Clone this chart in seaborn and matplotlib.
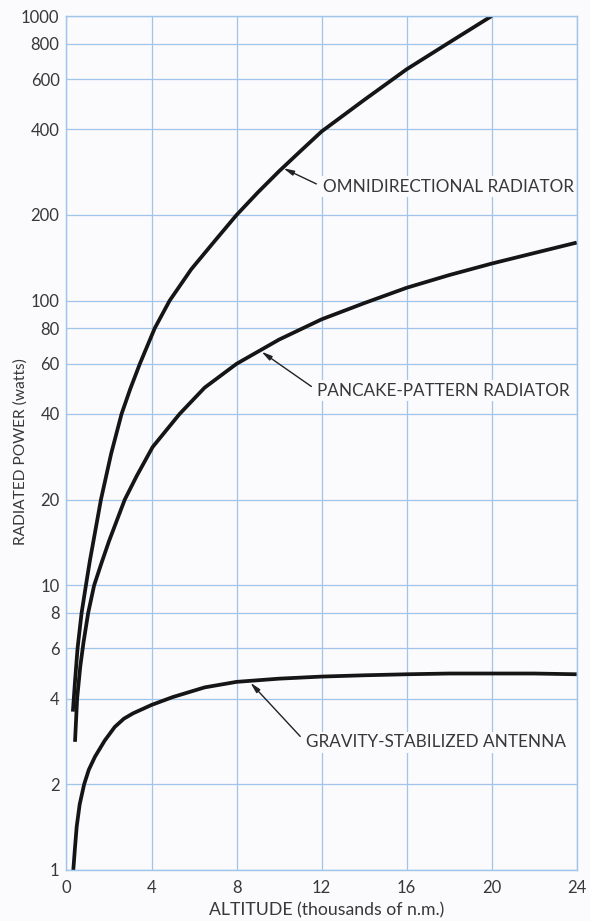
import matplotlib
matplotlib.use("Agg")
import matplotlib.pyplot as plt
import numpy as np
import pandas as pd
import seaborn as sns

# values (altitude in thousands of n.m., power in watts)
omni_x = [0.3, 0.4, 0.52, 0.71, 0.95, 1.1, 1.62, 2.1, 2.59, 3.0, 3.45, 4.15, 4.85,
          5.87, 7.0, 8.0, 9.0, 10.0, 11.0, 12.0, 14.0, 16.0, 18.0, 20.0]
omni_y = [3.6, 4.6, 6.0, 8.0, 10.4, 12.2, 20, 29, 40, 49, 60, 80, 100,
          129, 163, 200, 240, 285, 335, 393, 507, 650, 807, 1000]

pan_x = [0.4, 0.5, 0.65, 0.8, 1.02, 1.3, 1.65, 2.0, 2.74, 3.3, 4.05, 5.32, 6.5,
         8.0, 10.0, 12.0, 14.0, 16.0, 18.0, 20.0, 22.0, 24.0]
pan_y = [2.82, 4.0, 5.2, 6.3, 8.0, 10.0, 12.0, 14.3, 20, 24.2, 30.6, 40, 49.5,
         60, 73, 86, 98, 111, 123, 135, 147, 160]

grav_x = [0.32, 0.4, 0.48, 0.62, 0.83, 1.05, 1.34, 1.8, 2.27, 2.7, 3.13, 4.0, 5.0,
          6.5, 8.0, 10.0, 12.0, 14.0, 16.0, 18.0, 20.0, 22.0, 24.0]
grav_y = [1.0, 1.2, 1.42, 1.7, 2.0, 2.25, 2.5, 2.85, 3.18, 3.4, 3.55, 3.8, 4.05,
          4.38, 4.58, 4.7, 4.78, 4.83, 4.87, 4.9, 4.9, 4.9, 4.87]

x_ticks = [0, 4, 8, 12, 16, 20, 24]
y_ticks = [1, 2, 4, 6, 8, 10, 20, 40, 60, 80, 100, 200, 400, 600, 800, 1000]

labels = ["OMNIDIRECTIONAL RADIATOR", "PANCAKE-PATTERN RADIATOR", "GRAVITY-STABILIZED ANTENNA"]
label_tip = [(10.2, 292), (9.17, 66.2), (8.65, 4.55)]
label_pos = [(12.05, 251), (11.8, 48.3), (11.25, 2.81)]

df = pd.concat([
    pd.DataFrame({"alt": omni_x, "power": omni_y, "curve": labels[0]}),
    pd.DataFrame({"alt": pan_x, "power": pan_y, "curve": labels[1]}),
    pd.DataFrame({"alt": grav_x, "power": grav_y, "curve": labels[2]}),
])

sns.set_style("white")
plt.rcParams["font.family"] = ["Lato", "DejaVu Sans"]

grid_blue = "#a0c5ea"
ink = "#383838"
bg = "#fbfafc"

fig = plt.figure(figsize=(5.9, 9.21), dpi=100)
fig.patch.set_facecolor(bg)
ax = fig.add_axes([0.1127, 0.0554, 0.8648, 0.9272])
ax.set_facecolor(bg)

for name in labels:
    sub = df[df["curve"] == name]
    sns.lineplot(data=sub, x="alt", y="power", ax=ax, color="#151515",
                 linewidth=2.7, sort=False, estimator=None, legend=False,
                 solid_capstyle="butt", solid_joinstyle="round")

ax.set_yscale("log")
ax.set_xlim(0, 24)
ax.set_ylim(1, 1000)
ax.set_xticks(x_ticks)
ax.set_xticklabels([str(t) for t in x_ticks])
ax.set_yticks(y_ticks)
ax.set_yticklabels([str(t) for t in y_ticks])
ax.yaxis.set_minor_locator(matplotlib.ticker.NullLocator())
ax.tick_params(axis="both", length=0, labelsize=12, labelcolor=ink)
ax.tick_params(axis="x", pad=7)
ax.tick_params(axis="y", pad=5)
ax.grid(True, color=grid_blue, linewidth=0.9)
for s in ax.spines.values():
    s.set_color(grid_blue)
    s.set_linewidth(1.0)

ax.set_xlabel("ALTITUDE (thousands of n.m.)", fontsize=12.7, color=ink)
ax.set_ylabel("RADIATED POWER (watts)", fontsize=11.2, color=ink)
ax.xaxis.set_label_coords(0.51, -0.047)
ax.xaxis.label.set_va("center")
ax.yaxis.set_label_coords(-0.091, 0.49)
ax.yaxis.label.set_va("center")

for name, tip, pos in zip(labels, label_tip, label_pos):
    ax.annotate(name, xy=tip, xytext=pos, fontsize=12.3, color=ink,
                va="center", ha="left",
                bbox=dict(boxstyle="square,pad=0.15", facecolor=bg, edgecolor="none"),
                arrowprops=dict(arrowstyle="-|>,head_length=0.5,head_width=0.12",
                                color="#222222", linewidth=1.0,
                                shrinkA=3, shrinkB=0,
                                relpos=(0, 0.5)))

fig.savefig("out.png", dpi=100, facecolor=fig.get_facecolor())
